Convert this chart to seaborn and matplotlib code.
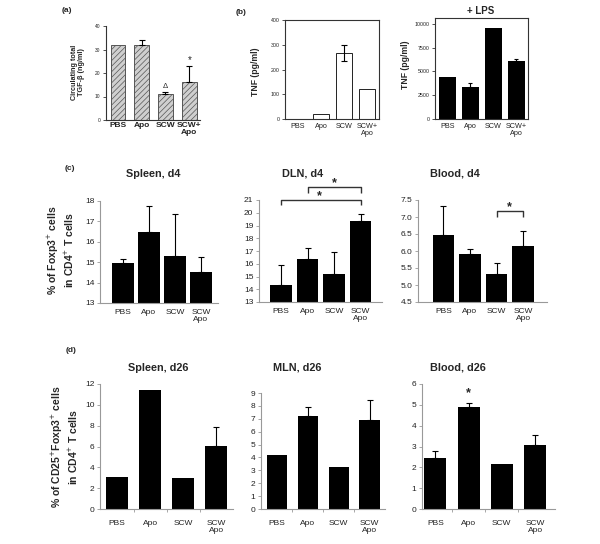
import numpy as np
import matplotlib
matplotlib.use("Agg")
import matplotlib.pyplot as plt
import seaborn as sns

sns.set_style("white")
plt.rcParams['font.family'] = ['Liberation Sans', 'DejaVu Sans']
plt.rcParams['hatch.linewidth'] = 0.5

W, H = 600, 544

# ---------------- data ----------------
cats_plus = ["PBS", "Apo", "SCW", "SCW+\nApo"]
cats = ["PBS", "Apo", "SCW", "SCW\nApo"]

# (a) circulating TGF-beta
tgf_vals = [32, 32, 11, 16]
tgf_err = [0, 2, 1, 7]

# (b) TNF
tnf_vals = [0, 20, 268, 122]
tnf_err = [0, 0, 33, 0]
tnf_lps_vals = [4400, 3400, 9600, 6100]
tnf_lps_err = [0, 400, 0, 200]

# (c) % Foxp3+ in CD4+, day 4
spleen_d4 = [14.95, 16.5, 15.3, 14.5]
spleen_d4_err = [0.2, 1.25, 2.05, 0.75]
dln_d4 = [14.3, 16.35, 15.2, 19.35]
dln_d4_err = [1.6, 0.9, 1.7, 0.55]
blood_d4 = [6.48, 5.92, 5.33, 6.15]
blood_d4_err = [0.85, 0.13, 0.32, 0.45]

# (d) % CD25+Foxp3+ in CD4+, day 26
spleen_d26 = [3.1, 11.4, 2.95, 6.05]
spleen_d26_err = [0, 0, 0, 1.85]
mln_d26 = [4.2, 7.2, 3.25, 6.9]
mln_d26_err = [0, 0.75, 0, 1.55]
blood_d26 = [2.45, 4.9, 2.15, 3.08]
blood_d26_err = [0.35, 0.18, 0, 0.45]

fig = plt.figure(figsize=(W / 100, H / 100), dpi=100)


def rect(x0, yt, x1, yb):
    return [x0 / W, 1 - yb / H, (x1 - x0) / W, (yb - yt) / H]


def bars(r, labels, vals, errs, color, width, xlim, ylim, yticks,
         tick_fs, lab_fs, lab_bold=False, edge=None, hatch=None,
         err_both=False, capsize=2.0, spine_color='#999999', box=False):
    ax = fig.add_axes(r)
    sns.barplot(x=labels, y=vals, ax=ax, color=color, width=width,
                saturation=1, errorbar=None,
                edgecolor=edge if edge else color, linewidth=0.7 if edge else 0)
    if hatch:
        for p in ax.patches:
            p.set_hatch(hatch)
    idx = [i for i, e in enumerate(errs) if e > 0]
    if idx:
        xs = [i for i in idx]
        ys = [vals[i] for i in idx]
        up = [errs[i] for i in idx]
        lo = up if err_both else [0] * len(idx)
        ax.errorbar(xs, ys, yerr=[lo, up], fmt='none', ecolor='black',
                    elinewidth=0.8, capsize=capsize, capthick=0.8, zorder=5)
    ax.set_xlim(*xlim)
    ax.set_ylim(*ylim)
    ax.set_yticks(yticks)
    ax.set_xlabel("")
    ax.set_ylabel("")
    for s in ['top', 'right']:
        ax.spines[s].set_visible(box)
    for s in ax.spines.values():
        s.set_color(spine_color)
        s.set_linewidth(0.8)
    ax.tick_params(axis='y', direction='out', length=2.5, width=0.6,
                   color=spine_color, labelsize=tick_fs, pad=1.5,
                   left=True, labelcolor='#222222')
    ax.tick_params(axis='x', length=0, labelsize=lab_fs, pad=4.5,
                   labelcolor='#222222')
    for t in ax.get_xticklabels():
        t.set_linespacing(1.0)
        if lab_bold:
            t.set_fontweight('bold')
    return ax


# ---------- (a) ----------
axa = bars(rect(106, 26, 200, 120), cats_plus, tgf_vals, tgf_err,
           '#cfcfcf', 0.62, (-0.5, 3.45), (0, 40), [0, 10, 20, 30, 40],
           3.5, 6, lab_bold=True, edge='#555555', hatch='//////',
           spine_color='#333333', capsize=2.5)
axa.tick_params(axis='x', pad=1.5)
axa.text(2, 14.3, "Δ", ha='center', va='center', fontsize=5.5)
axa.text(3, 25.5, "*", ha='center', va='center', fontsize=7)
fig.text(78 / W, 1 - 72 / H, "Circulating total\nTGF-β (ng/ml)", rotation=90,
         ha='center', va='center', fontsize=5.2, fontweight='bold',
         linespacing=1.1)
fig.text(62 / W, 1 - 10 / H, "(a)", fontsize=6, fontweight='bold',
         ha='left', va='center')

# ---------- (b) ----------
axb = bars(rect(285, 20, 379, 119), cats_plus, tnf_vals, tnf_err,
           'white', 0.7, (-0.57, 3.52), (0, 400), [0, 100, 200, 300, 400],
           3.8, 5.2, edge='#222222', err_both=True, spine_color='#333333',
           box=True, capsize=2.5)
axb.tick_params(axis='x', pad=3)
fig.text(256 / W, 1 - 72 / H, "TNF (pg/ml)", rotation=90, ha='center',
         va='center', fontsize=6.2, fontweight='bold')
fig.text(236 / W, 1 - 12 / H, "(b)", fontsize=6, fontweight='bold',
         ha='left', va='center')

axb2 = bars(rect(435, 18, 528, 119), cats_plus, tnf_lps_vals, tnf_lps_err,
            'black', 0.74, (-0.54, 3.5), (0, 10600),
            [0, 2500, 5000, 7500, 10000], 3.8, 5.2, spine_color='#333333',
            box=True, capsize=1.5)
axb2.tick_params(axis='x', pad=3)
fig.text(405 / W, 1 - 65 / H, "TNF (pg/ml)", rotation=90, ha='center',
         va='center', fontsize=6.2, fontweight='bold')
fig.text(481 / W, 1 - 11 / H, "+ LPS", ha='center', va='center',
         fontsize=7, fontweight='bold')

# ---------- (c) ----------
tfs, lfs = 6.0, 6.0
ax1 = bars(rect(100, 201, 218, 303), cats, spleen_d4, spleen_d4_err,
           'black', 0.82, (-0.88, 3.66), (13, 18), [13, 14, 15, 16, 17, 18],
           tfs, lfs)
ax2 = bars(rect(259, 200, 382, 302), cats, dln_d4, dln_d4_err,
           'black', 0.8, (-0.83, 3.81), (13, 21), list(range(13, 22)),
           tfs, lfs)
ax3 = bars(rect(418, 200, 547, 302), cats, blood_d4, blood_d4_err,
           'black', 0.82, (-0.96, 3.9), (4.5, 7.5),
           [4.5, 5.0, 5.5, 6.0, 6.5, 7.0, 7.5], tfs, lfs)
ax3.set_yticklabels([f"{v:.1f}" for v in [4.5, 5.0, 5.5, 6.0, 6.5, 7.0, 7.5]])

bk = dict(color='#333333', lw=1.0, clip_on=False, solid_capstyle='butt')
ax2.plot([0, 0, 3, 3], [20.6, 21.0, 21.0, 20.6], **bk)
ax2.plot([1, 1, 3, 3], [21.55, 22.0, 22.0, 21.55], **bk)
ax2.text(1.45, 21.3, "*", ha='center', va='center', fontsize=9,
         fontweight='bold', clip_on=False)
ax2.text(2.0, 22.3, "*", ha='center', va='center', fontsize=9,
         fontweight='bold', clip_on=False)
ax3.plot([2, 2, 3, 3], [7.0, 7.18, 7.18, 7.0], **bk)
ax3.text(2.5, 7.3, "*", ha='center', va='center', fontsize=9,
         fontweight='bold', clip_on=False)

for ax, t, cx in [(ax1, "Spleen, d4", 153), (ax2, "DLN, d4", 303),
                  (ax3, "Blood, d4", 455)]:
    fig.text(cx / W, 1 - 174 / H, t, ha='center', va='center', fontsize=7.8,
             fontweight='bold')
fig.text(61 / W, 1 - 250 / H, "% of Foxp3$^{+}$ cells\nin CD4$^{+}$ T cells",
         rotation=90, ha='center', va='center', fontsize=7.5,
         fontweight='bold', linespacing=1.15)
fig.text(65 / W, 1 - 168 / H, "(c)", fontsize=6, fontweight='bold',
         ha='left', va='center')

# ---------- (d) ----------
ax4 = bars(rect(100, 384, 233, 509), cats, spleen_d26, spleen_d26_err,
           'black', 0.67, (-0.52, 3.51), (0, 12), [0, 2, 4, 6, 8, 10, 12],
           tfs, lfs)
ax5 = bars(rect(261, 393, 385, 509), cats, mln_d26, mln_d26_err,
           'black', 0.66, (-0.52, 3.5), (0, 9), list(range(0, 10)),
           tfs, lfs)
ax6 = bars(rect(422, 384, 555, 509), cats, blood_d26, blood_d26_err,
           'black', 0.66, (-0.4, 3.6), (0, 6), list(range(0, 7)),
           tfs, lfs)
for ax in (ax4, ax5, ax6):
    ax.set_xticks([0.5, 1.5, 2.5], minor=True)
    ax.tick_params(axis='x', which='minor', direction='out', length=2.5,
                   width=0.6, color='#999999', bottom=True)
    ax.tick_params(axis='x', pad=8)
ax6.text(1, 5.57, "*", ha='center', va='center', fontsize=9,
         fontweight='bold')

for t, cx in [("Spleen, d26", 158), ("MLN, d26", 297), ("Blood, d26", 458)]:
    fig.text(cx / W, 1 - 368 / H, t, ha='center', va='center', fontsize=7.8,
             fontweight='bold')
fig.text(65 / W, 1 - 447 / H,
         "% of CD25$^{+}$Foxp3$^{+}$ cells\nin CD4$^{+}$ T cells",
         rotation=90, ha='center', va='center', fontsize=7.5,
         fontweight='bold', linespacing=1.15)
fig.text(66 / W, 1 - 350 / H, "(d)", fontsize=6, fontweight='bold',
         ha='left', va='center')

fig.savefig("out.png", dpi=100, facecolor='white')
